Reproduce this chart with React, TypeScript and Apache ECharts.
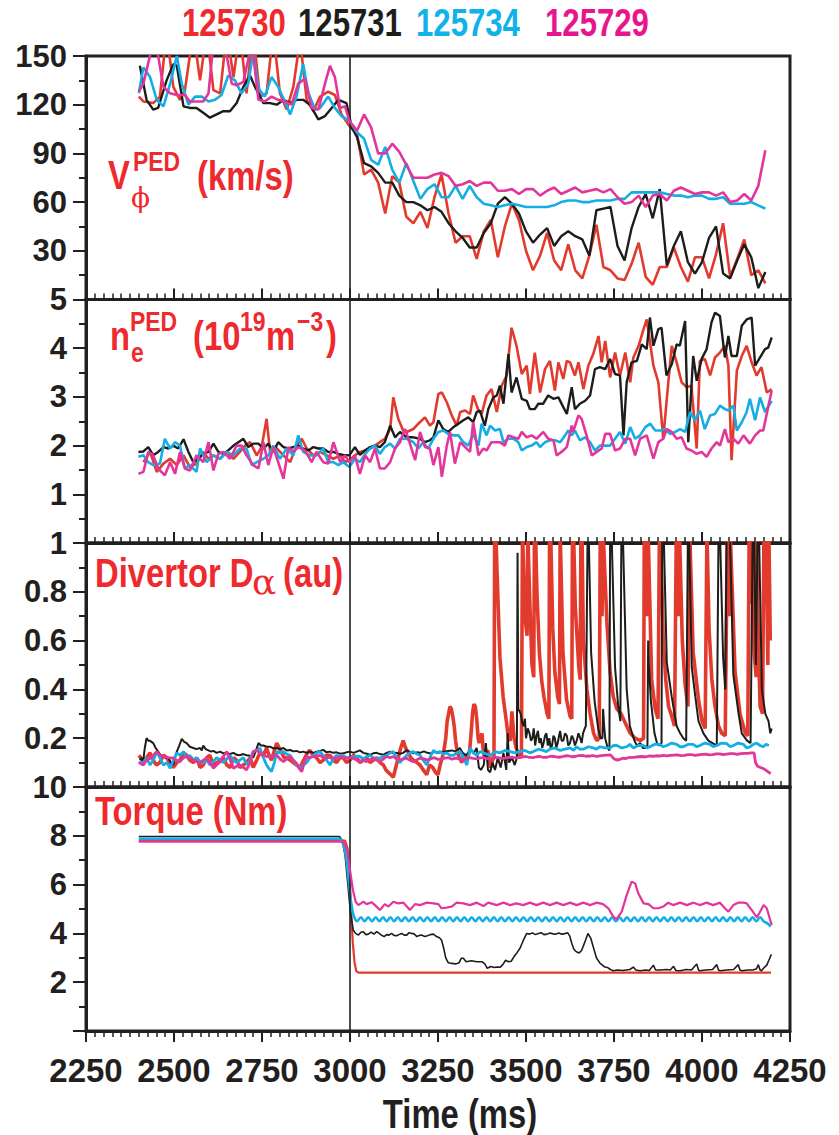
import React, { useEffect, useRef } from "react";
import * as echarts from "echarts";

// ---------- labels ----------
const shots = ["125730", "125731", "125734", "125729"];
const lineColors = ["#e23b2e", "#1d1d1b", "#14aee6", "#e2369b"];
const legendColors = ["#ee2a2f", "#1d1d1b", "#10b2ea", "#e8168c"];
const xTickMin = 2250;
const xTickMax = 4250;
const xTickStep = 250;

// ---------- panel 1 : V_phi^PED (km/s) ----------
const vRed = [[2400,125],[2413,122],[2441,121],[2460,125],[2479,165],[2498,131],[2517,123],[2531,129],[2555,165],[2574,135],[2593,165],[2612,129],[2631,127],[2650,165],[2669,137],[2687,165],[2706,127],[2725,165],[2744,125],[2763,127],[2782,165],[2801,127],[2820,117],[2839,131],[2858,160],[2877,123],[2896,116],[2915,125],[2938,128],[2957,126],[2976,114],[2998,107],[3020,102],[3040,77],[3060,80],[3080,72],[3100,53],[3120,76],[3140,72],[3160,51],[3180,47],[3200,54],[3220,44],[3240,63],[3260,77],[3280,53],[3300,35],[3320,39],[3340,39],[3360,25],[3380,42],[3400,49],[3420,26],[3440,45],[3460,59],[3480,49],[3500,30],[3520,18],[3540,27],[3560,41],[3580,24],[3600,18],[3620,34],[3640,18],[3660,13],[3680,27],[3700,46],[3720,20],[3740,18],[3760,13],[3780,12],[3800,22],[3820,35],[3840,14],[3860,9],[3880,20],[3900,20],[3920,32],[3940,20],[3960,11],[3980,26],[4000,26],[4020,13],[4040,28],[4060,47],[4080,14],[4100,25],[4120,37],[4140,15],[4160,18],[4180,10]];
const vBlack = [[2403,144],[2422,123],[2441,117],[2455,118],[2479,135],[2498,145],[2508,144],[2527,119],[2545,118],[2564,118],[2583,115],[2602,112],[2621,114],[2640,116],[2659,116],[2678,121],[2697,131],[2716,138],[2730,131],[2754,121],[2773,121],[2792,120],[2811,123],[2830,121],[2848,123],[2867,123],[2886,120],[2910,111],[2929,113],[2948,118],[2967,123],[2990,121],[3005,106],[3020,100],[3040,84],[3060,82],[3080,78],[3100,72],[3120,72],[3140,64],[3160,60],[3180,60],[3200,58],[3220,55],[3240,57],[3260,54],[3280,47],[3300,42],[3320,38],[3340,32],[3360,32],[3380,41],[3400,47],[3420,59],[3440,63],[3460,59],[3480,53],[3500,42],[3520,35],[3540,40],[3560,44],[3580,33],[3600,39],[3620,42],[3640,39],[3660,37],[3680,27],[3700,55],[3720,56],[3740,57],[3760,33],[3780,24],[3800,44],[3820,57],[3840,65],[3860,50],[3880,68],[3900,21],[3920,33],[3940,42],[3960,23],[3980,16],[4000,23],[4020,38],[4040,45],[4060,16],[4080,13],[4100,24],[4120,34],[4140,26],[4160,7],[4180,17]];
const vCyan = [[2400,127],[2413,143],[2432,137],[2451,123],[2470,119],[2489,133],[2508,150],[2522,133],[2541,120],[2560,125],[2579,125],[2598,122],[2616,123],[2635,126],[2654,138],[2673,135],[2692,127],[2711,133],[2725,152],[2740,130],[2758,125],[2777,137],[2796,131],[2815,122],[2830,114],[2848,125],[2867,145],[2882,127],[2901,117],[2915,118],[2938,125],[2957,118],[2976,113],[2998,110],[3020,103],[3040,99],[3060,86],[3080,83],[3100,94],[3120,80],[3140,72],[3160,84],[3180,73],[3200,62],[3220,68],[3240,71],[3260,63],[3280,63],[3300,70],[3320,62],[3340,70],[3360,63],[3380,59],[3400,58],[3420,57],[3440,58],[3460,59],[3480,58],[3500,57],[3520,57],[3540,57],[3560,57],[3580,58],[3600,60],[3620,61],[3640,61],[3660,60],[3680,60],[3700,61],[3720,61],[3740,61],[3760,62],[3780,62],[3800,66],[3820,66],[3840,66],[3860,66],[3880,66],[3900,65],[3920,64],[3940,64],[3960,63],[3980,64],[4000,64],[4020,62],[4040,62],[4060,63],[4080,59],[4100,59],[4120,59],[4140,60],[4160,58],[4180,56]];
const vPink = [[2400,128],[2413,133],[2437,155],[2451,155],[2470,131],[2489,127],[2508,126],[2531,126],[2545,122],[2564,122],[2583,122],[2598,127],[2612,158],[2631,160],[2650,150],[2664,133],[2678,132],[2697,134],[2721,158],[2740,123],[2758,122],[2777,125],[2796,123],[2815,122],[2834,120],[2853,133],[2872,136],[2891,118],[2910,117],[2929,133],[2943,144],[2957,137],[2972,118],[2986,119],[2998,110],[3020,104],[3040,114],[3060,106],[3080,90],[3100,90],[3120,96],[3140,91],[3160,83],[3180,75],[3200,75],[3220,75],[3240,77],[3260,78],[3280,76],[3300,70],[3320,71],[3340,73],[3360,70],[3380,72],[3400,72],[3420,67],[3440,67],[3460,68],[3480,65],[3500,68],[3520,68],[3540,64],[3560,67],[3580,69],[3600,65],[3620,67],[3640,69],[3660,66],[3680,67],[3700,68],[3720,66],[3740,68],[3760,63],[3780,59],[3800,60],[3820,64],[3840,57],[3860,64],[3880,65],[3900,61],[3920,67],[3940,69],[3960,67],[3980,65],[4000,66],[4020,66],[4040,64],[4060,66],[4080,60],[4100,61],[4120,65],[4140,61],[4160,70],[4180,92]];

// ---------- panel 2 : n_e^PED (1e19 m^-3) ----------
const nRed = [[2413,1.66],[2432,1.87],[2451,1.46],[2470,1.63],[2489,1.73],[2508,1.60],[2527,1.80],[2545,1.56],[2564,1.63],[2583,1.87],[2598,1.73],[2612,1.80],[2631,1.73],[2650,1.87],[2669,1.73],[2687,1.87],[2702,2.00],[2716,2.07],[2735,1.80],[2749,1.97],[2763,2.55],[2773,1.87],[2792,1.94],[2811,1.80],[2830,1.66],[2848,2.00],[2863,2.14],[2877,1.94],[2896,1.80],[2915,1.87],[2934,1.80],[2953,1.73],[2972,1.80],[2986,1.66],[2998,1.70],[3014,1.80],[3028,1.87],[3043,1.90],[3057,1.94],[3071,2.00],[3085,2.07],[3099,2.14],[3114,2.34],[3123,2.99],[3137,2.55],[3151,2.31],[3161,2.28],[3180,2.34],[3194,2.45],[3213,2.58],[3227,2.41],[3237,2.48],[3251,3.06],[3261,3.09],[3275,2.89],[3289,2.62],[3303,2.41],[3313,2.69],[3327,2.72],[3341,2.65],[3350,3.03],[3365,2.72],[3374,2.65],[3388,3.03],[3402,3.16],[3417,2.69],[3431,3.23],[3445,3.44],[3459,4.42],[3473,4.05],[3488,3.47],[3502,3.64],[3511,3.06],[3525,3.91],[3540,3.09],[3554,3.57],[3568,3.74],[3582,3.13],[3592,3.71],[3606,3.37],[3616,3.74],[3625,3.71],[3639,3.44],[3649,3.71],[3663,3.16],[3677,3.64],[3691,3.88],[3706,4.25],[3715,3.71],[3725,4.15],[3739,3.40],[3753,3.91],[3767,3.44],[3782,3.91],[3796,3.30],[3805,3.81],[3820,4.05],[3834,4.39],[3843,4.59],[3862,3.64],[3876,3.30],[3890,2.14],[3900,2.96],[3914,4.05],[3928,3.71],[3942,3.30],[3956,3.20],[3970,3.23],[3985,1.94],[3994,3.74],[4008,3.78],[4023,3.44],[4037,3.81],[4051,3.91],[4065,4.05],[4075,3.64],[4084,1.70],[4099,3.54],[4113,3.84],[4127,4.05],[4141,3.71],[4155,3.44],[4169,3.61],[4184,3.09],[4198,3.16]];
const nBlack = [[2399,1.87],[2413,1.88],[2427,1.97],[2441,1.80],[2455,1.87],[2470,1.97],[2484,1.94],[2498,2.00],[2512,1.94],[2527,2.13],[2541,1.87],[2555,1.66],[2569,1.73],[2583,1.83],[2598,1.87],[2612,2.04],[2626,1.87],[2640,1.83],[2654,1.90],[2669,2.00],[2683,2.07],[2697,2.14],[2711,1.97],[2725,2.04],[2740,2.04],[2754,1.94],[2768,2.04],[2782,1.87],[2796,2.07],[2811,1.97],[2825,1.94],[2839,1.97],[2853,2.00],[2867,1.94],[2882,1.90],[2896,1.97],[2910,1.94],[2924,1.94],[2938,1.87],[2953,1.87],[2967,1.83],[2981,1.81],[2998,1.80],[3014,1.97],[3028,1.81],[3043,1.90],[3057,1.97],[3071,2.00],[3085,1.97],[3099,2.07],[3114,2.41],[3128,2.17],[3142,2.28],[3161,2.17],[3180,2.17],[3199,2.14],[3213,2.07],[3227,2.11],[3237,2.17],[3251,2.52],[3265,2.34],[3279,2.28],[3294,2.38],[3308,2.45],[3322,2.52],[3336,2.58],[3350,2.48],[3360,2.69],[3369,2.72],[3383,2.41],[3393,2.75],[3407,2.99],[3417,3.03],[3426,3.23],[3436,2.86],[3450,3.88],[3459,3.09],[3473,3.40],[3488,2.96],[3502,2.92],[3511,2.75],[3525,2.75],[3535,2.86],[3549,2.86],[3563,3.03],[3578,2.96],[3592,2.99],[3606,2.79],[3616,2.65],[3630,3.20],[3639,2.75],[3653,2.86],[3668,2.92],[3682,3.03],[3696,3.57],[3710,3.61],[3725,3.57],[3739,3.78],[3753,3.47],[3767,3.44],[3777,2.21],[3786,3.30],[3800,3.71],[3815,3.74],[3829,4.08],[3843,3.98],[3852,4.63],[3862,4.05],[3876,4.39],[3885,4.42],[3899,3.44],[3914,3.67],[3928,4.08],[3937,4.05],[3952,4.56],[3961,2.07],[3975,3.84],[3985,3.33],[3999,3.78],[4013,3.98],[4027,4.53],[4037,4.73],[4051,4.66],[4065,3.81],[4075,4.25],[4084,3.84],[4099,3.84],[4113,4.46],[4127,4.59],[4141,4.63],[4151,3.64],[4165,3.81],[4179,3.98],[4188,4.01],[4198,4.22]];
const nCyan = [[2399,1.77],[2413,1.80],[2427,1.66],[2441,1.60],[2460,1.63],[2474,2.14],[2489,1.94],[2503,2.07],[2517,2.00],[2531,1.53],[2545,1.60],[2564,1.46],[2574,1.94],[2593,1.66],[2612,1.80],[2631,1.73],[2650,1.87],[2669,1.80],[2687,1.94],[2706,1.94],[2721,1.60],[2735,1.66],[2754,1.73],[2768,1.80],[2782,2.00],[2801,1.73],[2820,1.94],[2839,1.80],[2853,2.21],[2867,1.87],[2886,1.80],[2905,1.80],[2924,1.94],[2938,1.66],[2953,1.66],[2967,1.60],[2981,1.66],[2998,1.56],[3014,1.73],[3028,1.66],[3043,1.83],[3057,1.94],[3071,2.00],[3085,1.83],[3099,1.97],[3114,2.04],[3128,1.94],[3142,2.14],[3161,2.14],[3180,2.07],[3194,1.94],[3208,2.07],[3222,1.94],[3237,2.14],[3251,2.28],[3265,2.31],[3279,2.24],[3294,2.21],[3308,2.21],[3322,2.07],[3336,2.00],[3350,2.24],[3365,2.00],[3374,2.45],[3388,2.21],[3398,2.41],[3412,2.31],[3426,2.34],[3436,2.07],[3450,2.14],[3464,2.14],[3478,2.07],[3488,1.90],[3502,1.97],[3516,2.00],[3530,2.07],[3540,1.97],[3554,2.07],[3568,2.11],[3582,2.11],[3597,2.07],[3611,2.21],[3620,2.31],[3630,2.21],[3639,2.31],[3653,2.11],[3668,2.17],[3682,2.07],[3696,1.90],[3710,2.00],[3725,2.00],[3739,2.00],[3753,2.14],[3767,2.28],[3782,2.04],[3796,2.38],[3810,2.14],[3824,2.21],[3839,2.38],[3853,2.45],[3867,2.31],[3881,2.31],[3895,2.34],[3909,2.24],[3924,2.28],[3938,2.34],[3952,2.28],[3966,2.69],[3980,2.52],[3994,2.72],[4008,2.34],[4023,2.62],[4037,2.65],[4051,2.82],[4065,2.75],[4075,2.72],[4089,2.82],[4099,2.31],[4113,2.48],[4127,2.69],[4136,2.96],[4151,2.52],[4165,2.99],[4179,2.69],[4198,2.92]];
const nPink = [[2399,1.42],[2413,1.46],[2427,1.87],[2441,1.80],[2455,1.53],[2474,1.39],[2489,1.66],[2503,1.42],[2517,1.87],[2531,1.53],[2545,1.49],[2564,1.80],[2583,1.66],[2598,2.07],[2612,1.49],[2626,1.83],[2640,1.87],[2659,1.73],[2678,2.00],[2692,2.00],[2706,1.80],[2725,1.60],[2740,1.53],[2754,2.07],[2768,1.60],[2782,1.97],[2796,1.66],[2811,1.32],[2825,1.97],[2839,1.87],[2853,1.97],[2872,1.90],[2891,1.66],[2905,1.87],[2924,1.66],[2938,1.63],[2953,2.07],[2972,1.66],[2986,1.80],[2998,1.66],[3014,1.80],[3028,1.42],[3043,1.80],[3057,1.66],[3071,1.94],[3085,1.53],[3099,1.53],[3114,1.66],[3128,1.94],[3142,2.07],[3156,2.34],[3166,2.14],[3185,1.70],[3199,2.28],[3213,1.97],[3227,1.94],[3237,1.60],[3251,1.97],[3261,1.36],[3275,2.00],[3284,2.28],[3298,1.63],[3313,2.07],[3327,1.97],[3341,1.87],[3350,2.48],[3365,1.80],[3379,1.94],[3388,1.90],[3402,2.07],[3417,2.07],[3426,2.07],[3440,2.00],[3450,2.21],[3464,2.17],[3478,2.14],[3488,2.28],[3502,2.17],[3516,2.21],[3530,2.14],[3549,2.28],[3563,2.14],[3578,2.11],[3587,1.80],[3601,1.87],[3616,1.97],[3630,2.41],[3634,2.28],[3649,2.62],[3658,2.55],[3672,2.21],[3687,1.80],[3701,1.87],[3715,1.94],[3725,2.24],[3739,2.24],[3753,1.90],[3767,1.94],[3782,2.14],[3796,2.14],[3810,1.80],[3824,2.14],[3843,2.21],[3862,1.73],[3876,2.07],[3890,2.14],[3900,2.34],[3914,2.28],[3928,2.14],[3942,2.17],[3956,1.94],[3970,1.90],[3985,1.83],[3999,1.87],[4013,1.77],[4027,1.94],[4042,2.07],[4051,2.00],[4065,2.34],[4075,2.07],[4089,2.14],[4103,2.04],[4118,2.21],[4136,2.04],[4151,2.21],[4165,2.31],[4174,2.31],[4198,3.13]];

// ---------- panel 3 : divertor D-alpha (au) ----------
const dRed = [[2400,0.13],[2411,0.11],[2422,0.12],[2432,0.14],[2441,0.11],[2450,0.09],[2460,0.10],[2470,0.13],[2479,0.12],[2488,0.10],[2498,0.08],[2508,0.10],[2517,0.11],[2527,0.14],[2536,0.13],[2545,0.11],[2555,0.10],[2565,0.12],[2574,0.08],[2583,0.09],[2593,0.12],[2602,0.13],[2612,0.09],[2622,0.10],[2631,0.11],[2640,0.12],[2650,0.09],[2660,0.08],[2669,0.12],[2678,0.11],[2687,0.08],[2697,0.09],[2706,0.10],[2716,0.12],[2725,0.08],[2735,0.11],[2744,0.14],[2754,0.13],[2763,0.16],[2770,0.13],[2777,0.11],[2785,0.15],[2792,0.18],[2799,0.16],[2806,0.14],[2813,0.12],[2820,0.12],[2830,0.11],[2839,0.10],[2848,0.09],[2858,0.08],[2865,0.10],[2872,0.12],[2879,0.14],[2886,0.15],[2895,0.13],[2905,0.12],[2915,0.10],[2924,0.11],[2933,0.13],[2943,0.13],[2952,0.11],[2962,0.10],[2971,0.12],[2981,0.12],[2990,0.10],[3000,0.11],[3010,0.13],[3019,0.12],[3028,0.10],[3038,0.11],[3048,0.12],[3057,0.10],[3066,0.11],[3076,0.12],[3085,0.10],[3095,0.09],[3102,0.07],[3109,0.06],[3116,0.05],[3123,0.04],[3130,0.08],[3137,0.12],[3144,0.16],[3151,0.19],[3158,0.16],[3166,0.14],[3173,0.12],[3180,0.11],[3190,0.10],[3199,0.09],[3208,0.07],[3218,0.05],[3226,0.09],[3235,0.08],[3243,0.06],[3250,0.05],[3256,0.09],[3262,0.12],[3268,0.16],[3272,0.2],[3276,0.27],[3280,0.3],[3284,0.33],[3288,0.32],[3292,0.29],[3296,0.25],[3300,0.19],[3305,0.14],[3311,0.12],[3318,0.10],[3324,0.13],[3330,0.12],[3336,0.13],[3340,0.15],[3344,0.22],[3348,0.3],[3352,0.34],[3356,0.33],[3360,0.28],[3364,0.2],[3367,0.18],[3371,0.2],[3375,0.22],[3378,0.16],[3382,0.12],[3387,0.14],[3392,0.15],[3396,0.1],[3400,0.08],[3405,0.11],[3409,0.12],[3411,1.05],[3414,1.05],[3421,0.74],[3426,0.53],[3435,0.37],[3445,0.26],[3450,0.2],[3455,0.19],[3460,0.31],[3466,0.2],[3472,0.16],[3480,0.13],[3487,0.12],[3490,1.05],[3492,1.05],[3497,0.7],[3503,0.62],[3505,1.05],[3507,1.05],[3511,0.75],[3517,0.5],[3522,0.45],[3524,1.05],[3527,1.05],[3531,0.8],[3538,0.55],[3545,0.43],[3551,0.37],[3560,0.3],[3565,0.28],[3567,1.05],[3570,1.05],[3576,0.65],[3582,0.47],[3590,0.37],[3595,0.34],[3597,1.05],[3599,1.05],[3605,0.55],[3615,0.36],[3625,0.29],[3630,0.28],[3632,1.05],[3635,1.05],[3640,0.74],[3650,0.49],[3654,0.44],[3656,1.05],[3659,1.05],[3663,0.6],[3673,0.4],[3682,0.3],[3692,0.22],[3701,0.19],[3708,0.2],[3711,1.05],[3713,1.05],[3716,0.7],[3719,1.05],[3721,1.05],[3730,0.67],[3739,0.47],[3748,0.37],[3758,0.32],[3770,0.3],[3786,0.25],[3796,0.22],[3810,0.2],[3825,0.19],[3834,0.2],[3836,1.05],[3838,1.05],[3844,0.7],[3847,1.05],[3849,1.05],[3857,0.44],[3867,0.32],[3875,0.28],[3879,1.05],[3882,1.05],[3890,0.6],[3897,0.44],[3905,0.33],[3914,0.29],[3922,0.25],[3927,1.05],[3929,1.05],[3933,0.7],[3936,1.05],[3938,1.05],[3944,0.6],[3952,0.42],[3960,0.33],[3965,1.05],[3967,1.05],[3975,0.55],[3990,0.36],[4000,0.27],[4009,0.24],[4014,1.05],[4016,1.05],[4020,0.65],[4028,0.44],[4037,0.33],[4047,0.25],[4056,0.22],[4066,0.21],[4072,1.05],[4074,1.05],[4077,0.7],[4080,1.05],[4082,1.05],[4094,0.47],[4108,0.3],[4123,0.22],[4130,0.21],[4134,1.05],[4136,1.05],[4139,0.75],[4141,1.05],[4143,1.05],[4148,0.55],[4154,0.45],[4155,1.05],[4157,1.05],[4160,0.6],[4165,0.33],[4172,0.3],[4176,1.05],[4178,1.05],[4182,1.05],[4187,0.5],[4190,1.05],[4192,1.05],[4194,0.6]];
const dBlack = [[2403,0.11],[2408,0.12],[2412,0.10],[2417,0.16],[2422,0.20],[2427,0.19],[2431,0.19],[2436,0.185],[2441,0.18],[2448,0.16],[2455,0.145],[2462,0.13],[2470,0.125],[2477,0.12],[2484,0.12],[2491,0.10],[2498,0.09],[2503,0.12],[2508,0.145],[2515,0.17],[2522,0.197],[2529,0.185],[2536,0.18],[2545,0.165],[2555,0.16],[2564,0.155],[2574,0.16],[2579,0.15],[2583,0.17],[2590,0.155],[2598,0.15],[2605,0.145],[2612,0.148],[2621,0.14],[2631,0.145],[2640,0.138],[2650,0.14],[2659,0.135],[2669,0.14],[2678,0.132],[2687,0.13],[2697,0.135],[2706,0.13],[2716,0.128],[2725,0.12],[2733,0.15],[2740,0.18],[2747,0.17],[2754,0.17],[2763,0.165],[2773,0.165],[2782,0.158],[2792,0.16],[2801,0.155],[2811,0.16],[2820,0.15],[2830,0.152],[2839,0.146],[2848,0.148],[2858,0.142],[2867,0.145],[2877,0.14],[2886,0.145],[2896,0.14],[2905,0.145],[2915,0.148],[2924,0.152],[2933,0.142],[2943,0.145],[2952,0.14],[2962,0.142],[2971,0.137],[2981,0.138],[2990,0.142],[3000,0.145],[3010,0.14],[3019,0.145],[3028,0.15],[3038,0.14],[3048,0.136],[3057,0.132],[3066,0.138],[3076,0.14],[3085,0.135],[3095,0.132],[3104,0.14],[3114,0.145],[3123,0.138],[3133,0.14],[3142,0.136],[3151,0.14],[3160,0.15],[3170,0.145],[3180,0.138],[3190,0.142],[3199,0.14],[3210,0.146],[3220,0.14],[3230,0.137],[3240,0.145],[3252,0.14],[3265,0.145],[3278,0.148],[3290,0.15],[3300,0.145],[3312,0.16],[3320,0.14],[3330,0.13],[3338,0.145],[3345,0.15],[3352,0.14],[3360,0.16],[3366,0.08],[3372,0.07],[3380,0.09],[3386,0.18],[3392,0.07],[3398,0.06],[3405,0.1],[3412,0.07],[3420,0.12],[3428,0.08],[3436,0.14],[3444,0.07],[3448,0.22],[3452,0.1],[3460,0.12],[3468,0.09],[3474,0.12],[3476,0.96],[3478,0.32],[3485,0.3],[3490,0.26],[3493,0.25],[3497,0.28],[3500,0.2],[3505,0.24],[3510,0.22],[3514,0.19],[3518,0.2],[3522,0.24],[3526,0.17],[3530,0.21],[3534,0.23],[3538,0.18],[3542,0.2],[3546,0.16],[3550,0.18],[3554,0.21],[3558,0.22],[3562,0.17],[3566,0.2],[3570,0.16],[3574,0.17],[3578,0.21],[3582,0.2],[3586,0.16],[3590,0.18],[3594,0.21],[3597,0.23],[3601,0.19],[3606,0.19],[3611,0.22],[3616,0.21],[3620,0.17],[3625,0.18],[3630,0.21],[3634,0.2],[3639,0.17],[3644,0.19],[3649,0.22],[3654,0.2],[3658,0.18],[3662,0.22],[3667,0.24],[3670,0.25],[3675,1.05],[3678,1.05],[3685,0.55],[3695,0.35],[3705,0.24],[3712,0.2],[3717,0.2],[3719,0.32],[3722,0.25],[3725,0.2],[3732,0.16],[3737,0.15],[3739,1.05],[3743,1.05],[3753,0.49],[3762,0.33],[3768,0.27],[3771,1.05],[3775,1.05],[3786,0.4],[3795,0.25],[3808,0.19],[3815,0.17],[3825,0.18],[3832,0.16],[3838,0.16],[3845,0.17],[3847,0.6],[3849,0.5],[3855,0.35],[3865,0.22],[3872,0.18],[3878,0.17],[3885,0.18],[3887,1.05],[3891,1.05],[3900,0.51],[3914,0.37],[3928,0.25],[3938,0.22],[3947,0.2],[3955,0.19],[3960,1.05],[3963,1.05],[3971,0.49],[3981,0.37],[3990,0.27],[4004,0.22],[4018,0.19],[4030,0.18],[4042,0.17],[4047,1.05],[4051,1.05],[4060,0.53],[4066,0.4],[4070,1.05],[4079,1.05],[4089,0.46],[4104,0.3],[4113,0.22],[4128,0.19],[4138,0.18],[4144,1.05],[4148,1.05],[4153,0.5],[4158,1.05],[4162,1.05],[4170,0.4],[4180,0.3],[4189,0.27],[4194,0.22],[4198,0.24]];
const dCyan = [[2400,0.10],[2413,0.10],[2422,0.12],[2432,0.09],[2441,0.11],[2451,0.145],[2460,0.12],[2470,0.09],[2480,0.1],[2489,0.077],[2498,0.11],[2508,0.14],[2517,0.13],[2527,0.145],[2536,0.12],[2545,0.13],[2555,0.11],[2564,0.12],[2574,0.105],[2583,0.10],[2593,0.11],[2602,0.09],[2612,0.105],[2621,0.12],[2631,0.11],[2640,0.10],[2650,0.115],[2659,0.13],[2669,0.11],[2678,0.10],[2687,0.11],[2697,0.12],[2704,0.1],[2711,0.09],[2718,0.12],[2725,0.145],[2735,0.15],[2744,0.16],[2754,0.12],[2763,0.09],[2770,0.075],[2777,0.063],[2785,0.1],[2792,0.145],[2801,0.14],[2811,0.145],[2820,0.135],[2830,0.13],[2839,0.11],[2848,0.09],[2858,0.077],[2867,0.09],[2877,0.10],[2886,0.12],[2896,0.13],[2905,0.14],[2915,0.145],[2929,0.12],[2943,0.09],[2952,0.115],[2962,0.13],[2971,0.125],[2981,0.13],[2990,0.12],[3000,0.12],[3014,0.125],[3028,0.125],[3038,0.115],[3047,0.125],[3057,0.13],[3066,0.12],[3076,0.115],[3085,0.12],[3095,0.125],[3104,0.13],[3114,0.14],[3123,0.145],[3132,0.12],[3142,0.10],[3151,0.115],[3161,0.13],[3170,0.14],[3180,0.145],[3190,0.135],[3199,0.13],[3208,0.11],[3218,0.09],[3227,0.12],[3237,0.15],[3246,0.14],[3256,0.145],[3265,0.135],[3275,0.14],[3284,0.13],[3294,0.13],[3303,0.14],[3313,0.145],[3322,0.12],[3332,0.09],[3341,0.16],[3350,0.14],[3360,0.13],[3369,0.145],[3379,0.14],[3388,0.135],[3398,0.13],[3412,0.145],[3426,0.14],[3440,0.15],[3455,0.145],[3469,0.14],[3483,0.145],[3497,0.15],[3511,0.14],[3521,0.145],[3535,0.155],[3549,0.15],[3558,0.145],[3568,0.155],[3582,0.16],[3597,0.15],[3611,0.155],[3625,0.16],[3635,0.15],[3644,0.165],[3653,0.155],[3663,0.155],[3677,0.165],[3691,0.16],[3700,0.155],[3710,0.165],[3725,0.16],[3739,0.16],[3748,0.17],[3758,0.17],[3772,0.16],[3786,0.165],[3795,0.175],[3805,0.16],[3819,0.17],[3833,0.17],[3843,0.16],[3852,0.165],[3866,0.175],[3880,0.175],[3890,0.165],[3900,0.17],[3914,0.18],[3928,0.175],[3938,0.165],[3947,0.165],[3961,0.175],[3975,0.175],[3985,0.165],[3994,0.17],[4008,0.18],[4023,0.175],[4032,0.165],[4042,0.17],[4056,0.18],[4070,0.178],[4080,0.165],[4089,0.17],[4103,0.18],[4118,0.175],[4127,0.16],[4136,0.165],[4146,0.175],[4155,0.18],[4165,0.17],[4174,0.165],[4182,0.175],[4190,0.17]];
const dPink = [[2400,0.10],[2413,0.09],[2422,0.11],[2432,0.118],[2441,0.13],[2451,0.145],[2460,0.13],[2470,0.125],[2484,0.12],[2498,0.118],[2508,0.11],[2517,0.104],[2527,0.12],[2536,0.125],[2545,0.12],[2555,0.11],[2564,0.105],[2574,0.097],[2583,0.11],[2593,0.118],[2602,0.1],[2612,0.077],[2621,0.09],[2631,0.104],[2640,0.125],[2650,0.145],[2660,0.11],[2669,0.077],[2678,0.085],[2687,0.09],[2697,0.08],[2706,0.07],[2716,0.1],[2725,0.145],[2735,0.15],[2744,0.14],[2754,0.13],[2763,0.125],[2773,0.125],[2782,0.13],[2792,0.13],[2801,0.115],[2811,0.104],[2820,0.115],[2830,0.125],[2839,0.11],[2848,0.097],[2856,0.075],[2863,0.063],[2870,0.1],[2877,0.125],[2886,0.12],[2896,0.125],[2905,0.128],[2915,0.13],[2924,0.12],[2934,0.118],[2943,0.122],[2953,0.118],[2962,0.115],[2972,0.125],[2981,0.12],[2991,0.118],[3000,0.12],[3010,0.118],[3019,0.11],[3028,0.104],[3038,0.11],[3047,0.104],[3057,0.112],[3066,0.118],[3076,0.11],[3085,0.104],[3095,0.115],[3104,0.125],[3114,0.12],[3123,0.125],[3132,0.115],[3142,0.111],[3151,0.115],[3161,0.118],[3170,0.11],[3180,0.104],[3190,0.112],[3199,0.118],[3210,0.115],[3220,0.11],[3230,0.116],[3240,0.12],[3250,0.113],[3260,0.115],[3270,0.118],[3280,0.12],[3290,0.114],[3300,0.118],[3310,0.115],[3320,0.11],[3330,0.116],[3340,0.12],[3350,0.117],[3360,0.115],[3370,0.119],[3380,0.12],[3390,0.116],[3400,0.118],[3410,0.121],[3420,0.12],[3430,0.117],[3440,0.118],[3450,0.121],[3460,0.122],[3470,0.119],[3480,0.12],[3490,0.123],[3500,0.125],[3510,0.121],[3520,0.12],[3530,0.124],[3540,0.125],[3550,0.121],[3560,0.122],[3570,0.126],[3580,0.125],[3590,0.122],[3600,0.123],[3610,0.127],[3620,0.128],[3630,0.124],[3640,0.125],[3650,0.129],[3660,0.13],[3670,0.126],[3680,0.127],[3690,0.129],[3700,0.125],[3710,0.128],[3720,0.13],[3730,0.131],[3740,0.132],[3750,0.115],[3760,0.11],[3768,0.114],[3775,0.118],[3782,0.116],[3790,0.12],[3800,0.121],[3810,0.122],[3820,0.124],[3830,0.125],[3840,0.123],[3850,0.127],[3860,0.126],[3870,0.128],[3880,0.127],[3890,0.13],[3900,0.128],[3910,0.13],[3920,0.131],[3930,0.132],[3940,0.129],[3950,0.13],[3960,0.133],[3970,0.133],[3980,0.13],[3990,0.132],[4000,0.134],[4010,0.135],[4020,0.132],[4030,0.133],[4040,0.136],[4050,0.136],[4060,0.133],[4070,0.135],[4080,0.137],[4090,0.137],[4100,0.134],[4110,0.137],[4120,0.138],[4130,0.138],[4140,0.14],[4148,0.14],[4152,0.1],[4158,0.085],[4166,0.08],[4175,0.075],[4185,0.065],[4195,0.055]];

// ---------- panel 4 : torque (Nm) ----------
const tRed = [[2400,7.8],[2986,7.8],[2993,7.5],[2998,6.6],[3003,5.0],[3008,3.6],[3013,2.8],[3018,2.45],[3024,2.39],[4196,2.39]];
const tBlack = [[2400,7.97],[2970,7.97],[2978,7.8],[2986,7.2],[2994,6.0],[3001,4.9],[3009,4.14],[3016,4.0],[3024,3.93],[3031,4.05],[3038,4.07],[3045,3.95],[3052,3.97],[3060,4.05],[3068,3.97],[3076,4.07],[3083,4.0],[3090,3.92],[3097,3.87],[3104,3.95],[3111,3.93],[3118,4.0],[3125,3.92],[3132,3.9],[3139,3.95],[3147,4.0],[3154,3.93],[3161,3.93],[3168,4.03],[3175,4.0],[3182,3.98],[3190,3.87],[3197,3.92],[3204,3.93],[3212,3.87],[3220,3.9],[3228,3.95],[3237,3.97],[3246,3.87],[3254,3.82],[3260,3.73],[3266,3.4],[3272,3.0],[3279,2.8],[3290,2.77],[3300,2.75],[3310,2.8],[3316,2.98],[3322,2.98],[3330,2.84],[3345,2.88],[3360,2.84],[3375,2.84],[3383,2.75],[3390,2.57],[3400,2.64],[3410,2.6],[3418,2.62],[3426,2.61],[3434,2.72],[3442,2.9],[3450,2.84],[3458,2.86],[3466,3.05],[3474,3.2],[3483,3.39],[3492,3.7],[3502,4.0],[3510,3.97],[3518,4.02],[3527,3.95],[3535,4.0],[3543,4.03],[3551,3.95],[3560,3.97],[3568,4.02],[3577,3.98],[3585,3.97],[3593,4.02],[3602,3.97],[3610,3.99],[3618,4.03],[3624,3.9],[3630,3.6],[3636,3.35],[3643,3.25],[3651,3.2],[3658,3.3],[3666,3.6],[3676,4.0],[3684,3.8],[3692,3.4],[3700,3.0],[3710,2.78],[3717,2.7],[3724,2.62],[3732,2.6],[3740,2.52],[3748,2.47],[3760,2.5],[3775,2.48],[3785,2.5],[3795,2.52],[3805,2.62],[3812,2.5],[3824,2.47],[3840,2.5],[3850,2.48],[3862,2.7],[3868,2.5],[3881,2.5],[3900,2.52],[3910,2.5],[3919,2.65],[3926,2.48],[3938,2.47],[3955,2.52],[3970,2.5],[3985,2.75],[3990,2.5],[3994,2.47],[4010,2.5],[4030,2.52],[4042,2.72],[4047,2.5],[4051,2.47],[4070,2.5],[4090,2.52],[4103,2.72],[4108,2.5],[4113,2.47],[4130,2.5],[4145,2.5],[4155,2.55],[4160,2.72],[4165,2.5],[4169,2.47],[4178,2.62],[4184,2.7],[4190,2.9],[4197,3.14]];
const tCyan = [[2400,7.88],[2968,7.88],[2978,7.75],[2988,7.2],[2996,6.2],[3003,5.3],[3010,4.75],[3020,4.5],[3031,4.66],[3041,4.5],[3052,4.66],[3062,4.5],[3073,4.66],[3083,4.5],[3094,4.66],[3104,4.5],[3115,4.66],[3125,4.5],[3136,4.66],[3146,4.5],[3157,4.66],[3167,4.5],[3178,4.66],[3188,4.5],[3199,4.66],[3209,4.5],[3220,4.66],[3230,4.5],[3241,4.66],[3251,4.5],[3262,4.66],[3272,4.5],[3283,4.66],[3293,4.5],[3304,4.66],[3314,4.5],[3325,4.66],[3335,4.5],[3346,4.66],[3356,4.5],[3367,4.66],[3377,4.5],[3388,4.66],[3398,4.5],[3409,4.66],[3419,4.5],[3430,4.66],[3440,4.5],[3451,4.66],[3461,4.5],[3472,4.66],[3482,4.5],[3493,4.66],[3503,4.5],[3514,4.66],[3524,4.5],[3535,4.66],[3545,4.5],[3556,4.66],[3566,4.5],[3577,4.66],[3587,4.5],[3598,4.66],[3608,4.5],[3619,4.66],[3629,4.5],[3640,4.66],[3650,4.5],[3661,4.66],[3671,4.5],[3682,4.66],[3692,4.5],[3703,4.66],[3713,4.5],[3724,4.66],[3734,4.5],[3745,4.66],[3755,4.5],[3766,4.66],[3776,4.5],[3787,4.66],[3797,4.5],[3808,4.66],[3818,4.5],[3829,4.66],[3839,4.5],[3850,4.66],[3860,4.5],[3871,4.66],[3881,4.5],[3892,4.66],[3902,4.5],[3913,4.66],[3923,4.5],[3934,4.66],[3944,4.5],[3955,4.66],[3965,4.5],[3976,4.66],[3986,4.5],[3997,4.66],[4007,4.5],[4018,4.66],[4028,4.5],[4039,4.66],[4049,4.5],[4060,4.66],[4070,4.5],[4081,4.66],[4091,4.5],[4102,4.66],[4112,4.5],[4123,4.66],[4133,4.5],[4144,4.66],[4154,4.5],[4165,4.66],[4175,4.5],[4185,4.42],[4195,4.28]];
const tPink = [[2400,7.76],[2978,7.76],[2986,7.65],[2993,7.3],[3000,6.6],[3008,5.8],[3016,5.3],[3024,5.16],[3038,5.3],[3047,5.2],[3061,5.28],[3071,5.16],[3085,4.96],[3099,5.2],[3109,5.1],[3123,5.3],[3137,5.23],[3152,5.26],[3166,5.03],[3170,4.96],[3185,5.2],[3199,5.16],[3218,5.26],[3237,5.23],[3251,5.2],[3260,5.03],[3275,5.06],[3289,5.1],[3303,5.26],[3322,5.23],[3341,5.16],[3360,5.26],[3379,5.12],[3393,5.26],[3417,5.16],[3436,5.26],[3455,5.16],[3473,5.23],[3492,5.16],[3511,5.26],[3530,5.16],[3549,5.26],[3568,5.16],[3587,5.26],[3606,5.16],[3625,5.26],[3644,5.16],[3663,5.26],[3682,5.16],[3701,5.26],[3719,5.2],[3734,5.03],[3748,4.69],[3757,4.58],[3772,4.89],[3786,5.57],[3800,6.12],[3810,6.05],[3819,5.64],[3834,5.23],[3848,5.2],[3862,5.03],[3876,5.03],[3890,5.1],[3904,5.26],[3918,5.16],[3938,5.26],[3957,5.16],[3976,5.26],[3994,5.16],[4013,5.26],[4032,5.16],[4051,5.26],[4065,5.03],[4075,4.89],[4089,5.16],[4103,5.26],[4118,5.26],[4127,5.23],[4141,4.96],[4156,4.66],[4165,4.89],[4175,5.16],[4184,5.03],[4198,4.34]];

// ---------- y axis ranges ----------
const yMins = [0, 0, 0, 0];
const yMaxs = [150, 5, 1, 10];
const yIntervals = [30, 1, 0.2, 2];

const INK = "#231f20";
const RED_TXT = "#ee2a2f";
const SANS = '"Liberation Sans", Arial, sans-serif';
const SERIF = '"DejaVu Serif", "Liberation Serif", serif';
const NARROW_SCALE = 0.82;

const gridTops = [56, 299.5, 543, 787];
const gridHeights = [243.5, 243.5, 244, 244];

export default function App() {
  const ref = useRef<HTMLDivElement | null>(null);
  useEffect(() => {
    if (!ref.current) return;
    const chart = echarts.init(ref.current, undefined, { renderer: "svg" });

    const panels = [
      [vRed, vBlack, vCyan, vPink],
      [nRed, nBlack, nCyan, nPink],
      [dRed, dBlack, dCyan, dPink],
      [tRed, tBlack, tCyan, tPink],
    ];
    const widths = [
      [2.6, 2.4, 2.6, 2.6],
      [2.6, 2.4, 2.6, 2.6],
      [3.6, 2.0, 2.8, 2.8],
      [2.2, 1.6, 2.6, 2.2],
    ];

    const grid = gridTops.map((top, i) => ({
      left: 86,
      width: 704,
      top,
      height: gridHeights[i],
      show: true,
      borderColor: INK,
      borderWidth: 3,
      backgroundColor: "transparent",
    }));

    const xAxis = gridTops.map((_, i) => ({
      type: "value",
      gridIndex: i,
      min: xTickMin,
      max: xTickMax,
      interval: xTickStep,
      axisLine: { show: true, onZero: false, lineStyle: { color: INK, width: 3 } },
      axisTick: { show: true, inside: i < 3, length: 11, lineStyle: { color: INK, width: 2 } },
      minorTick: { show: true, splitNumber: 10, length: 6, lineStyle: { color: INK, width: 1.5 } },
      splitLine: { show: false },
      axisLabel: {
        show: i === 3,
        showMinLabel: true,
        showMaxLabel: true,
        hideOverlap: false,
        margin: 23,
        color: INK,
        fontFamily: SANS,
        fontWeight: "bold",
        fontSize: 33,
        formatter: (v: number) => String(v),
      },
    }));

    const yAxis = gridTops.map((_, i) => ({
      type: "value",
      gridIndex: i,
      min: yMins[i],
      max: yMaxs[i],
      interval: yIntervals[i],
      axisLine: { show: true, lineStyle: { color: INK, width: 3 } },
      axisTick: { show: true, inside: false, length: 13, lineStyle: { color: INK, width: 2 } },
      minorTick: { show: true, splitNumber: 2, length: 7, lineStyle: { color: INK, width: 2 } },
      splitLine: { show: false },
      axisLabel: {
        margin: 19,
        color: INK,
        fontFamily: SANS,
        fontWeight: "bold",
        fontSize: 31,
        formatter: (v: number) => (v === 0 ? "" : String(Math.round(v * 10) / 10)),
      },
    }));

    const series: any[] = [];
    panels.forEach((list, p) => {
      list.forEach((data, s) => {
        const ser: any = {
          type: "line",
          name: shots[s] + "-" + p,
          xAxisIndex: p,
          yAxisIndex: p,
          data,
          showSymbol: false,
          symbol: "none",
          clip: true,
          smooth: p === 3 && s === 2 ? 0.4 : false,
          lineStyle: { color: lineColors[s], width: widths[p][s] },
          z: 2 + s,
        };
        if (s === 0) {
          ser.markLine = {
            silent: true,
            symbol: ["none", "none"],
            label: { show: false },
            lineStyle: { color: INK, width: 1.6, type: "solid" },
            data: [{ xAxis: 3000 }],
          };
        }
        series.push(ser);
      });
    });

    // narrow (condensed) text = Liberation Sans bold squeezed horizontally
    const txt = (text: string, x: number, y: number, size: number, fill: string, align = "left", narrow = true, font?: string) => ({
      type: "text",
      x,
      y,
      scaleX: narrow ? NARROW_SCALE : 1,
      silent: true,
      style: {
        text,
        font: font || `bold ${size}px ${SANS}`,
        fill,
        textAlign: align,
        textVerticalAlign: "middle",
      },
    });

    const graphic = [
      // legend of shot numbers
      txt(shots[0], 182, 23, 38, legendColors[0]),
      txt(shots[1], 298, 23, 38, legendColors[1]),
      txt(shots[2], 416, 23, 38, legendColors[2]),
      txt(shots[3], 545, 23, 38, legendColors[3]),
      // panel 1
      txt("V", 108, 175, 40, RED_TXT),
      txt("PED", 133, 161, 28, RED_TXT),
      txt("\u03d5", 131, 197, 28, RED_TXT, "left", false, `28px ${SERIF}`),
      txt("(km/s)", 197, 176, 40, RED_TXT),
      // panel 2
      txt("n", 110, 336, 40, RED_TXT),
      txt("PED", 130, 321, 28, RED_TXT),
      txt("e", 131, 352, 28, RED_TXT),
      txt("(10", 193, 336, 40, RED_TXT),
      txt("19", 240, 321, 28, RED_TXT),
      txt("m", 266, 336, 40, RED_TXT),
      txt("\u22123", 297, 321, 28, RED_TXT),
      txt(")", 326, 336, 40, RED_TXT),
      // panel 3
      txt("Divertor D", 95, 573, 40, RED_TXT),
      txt("\u03b1", 252, 581, 36, RED_TXT, "left", false, `36px ${SERIF}`),
      txt("(au)", 283, 573, 40, RED_TXT),
      // panel 4
      txt("Torque (Nm)", 95, 811, 40, RED_TXT),
      // x axis title
      txt("Time (ms)", 460, 1114, 40, INK, "center"),
    ];

    chart.setOption({
      animation: false,
      backgroundColor: "#ffffff",
      grid,
      xAxis,
      yAxis,
      series,
      graphic,
    });
    return () => chart.dispose();
  }, []);

  return (
    <div
      ref={ref}
      style={{ position: "absolute", left: 0, top: 0, width: 839, height: 1135, background: "#fff" }}
    />
  );
}
